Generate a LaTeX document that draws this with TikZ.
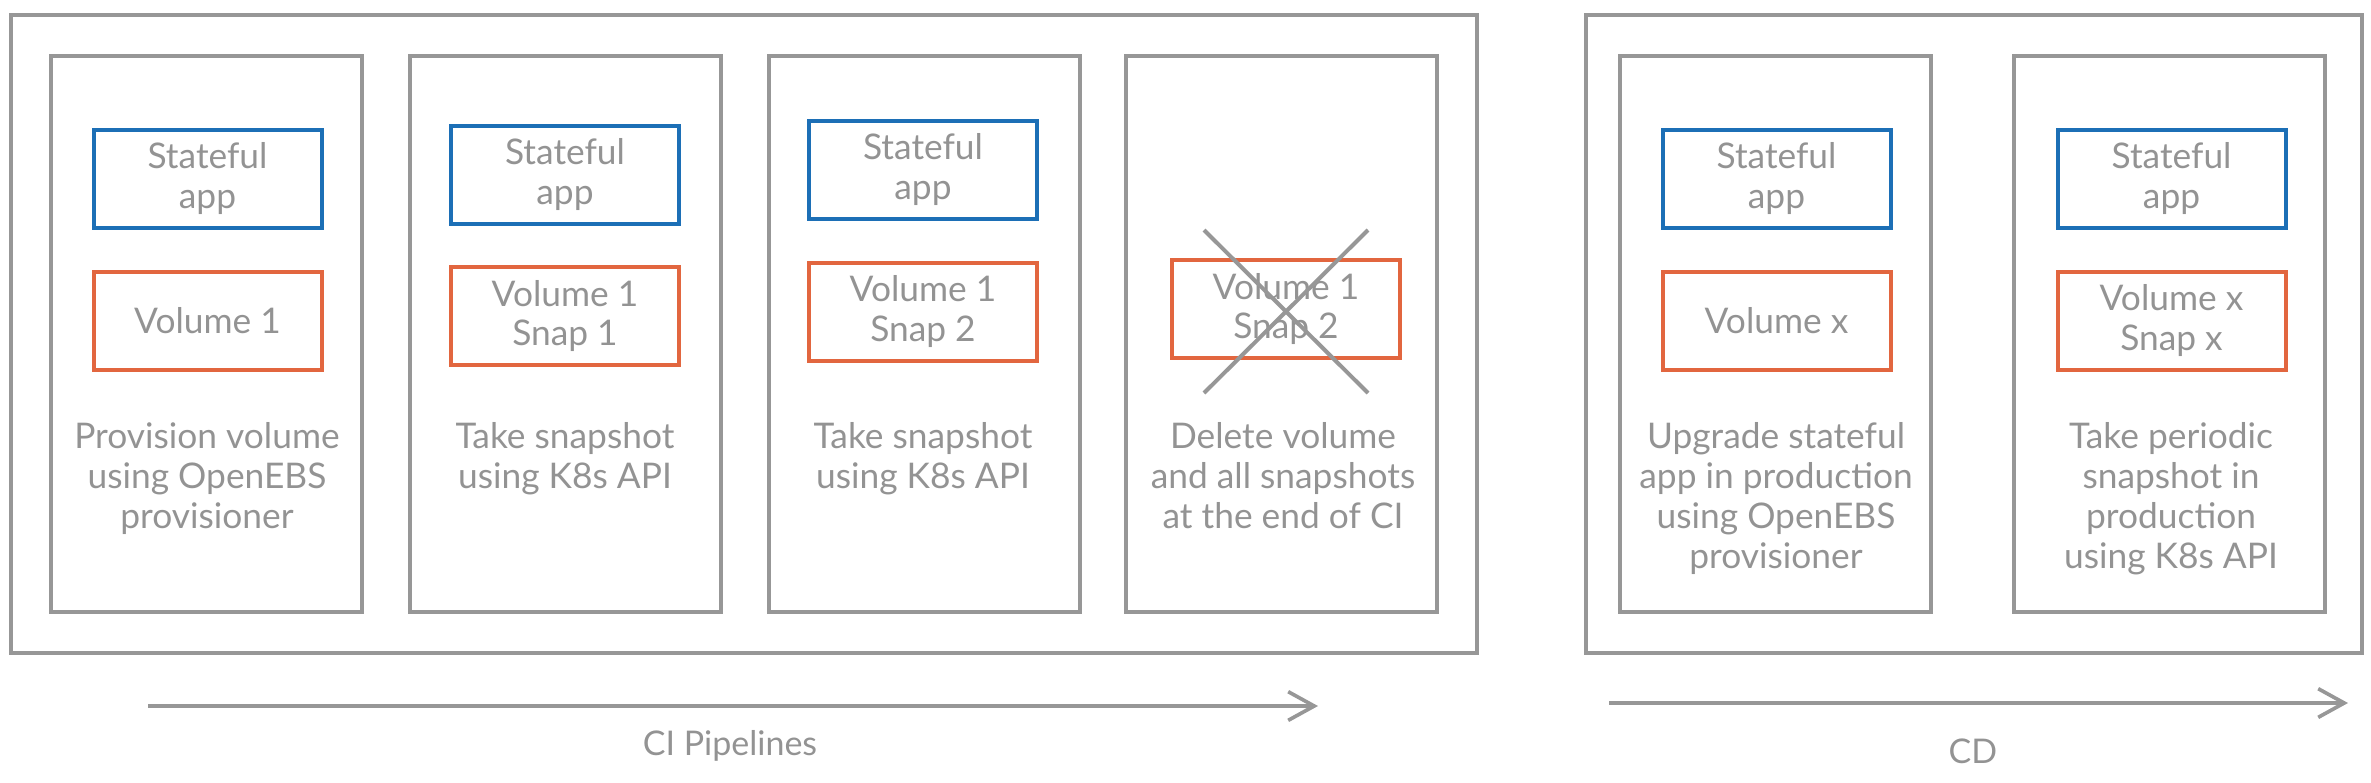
\documentclass[tikz,border=0pt]{standalone}
\usepackage{fontspec}
\setmainfont{Lato}
\usetikzlibrary{arrows.meta,calc}
\definecolor{framegray}{HTML}{979797}
\definecolor{textgray}{HTML}{939393}
\definecolor{appblue}{HTML}{1C6FB6}
\definecolor{volorange}{HTML}{E2663F}
\def\px{0.3pt}
\tikzset{%
  >={Straight Barb[length=7.8pt,width=8.6pt]}, % open arrow heads
  inner sep=0pt,%
  outer sep=0pt,%
  every node/.style={text=textgray,font=\fontsize{10.6}{12}\selectfont,align=center},%
  group frame/.style={draw=framegray,line width=1.2pt,
    minimum width=#1*\px,minimum height=638*\px},%
  stage box/.style={draw=framegray,line width=1.2pt,
    minimum width=311*\px,minimum height=556*\px},%
  app box/.style={draw=appblue,line width=1.2pt,
    minimum width=228*\px,minimum height=98*\px},%
  volume box/.style={draw=volorange,line width=1.2pt,
    minimum width=228*\px,minimum height=98*\px},%
  stage text/.style={anchor=north}%
}
\begin{document}
\begin{tikzpicture}[x=\px,y=-\px] % CI / CD

\useasboundingbox (0,0) rectangle (2371,782);

% outer frames
\node[group frame=1466] (CI) at (744,334) {};
\node[group frame=776] (CD) at (1974,334) {};

% CI stages
\node[stage box] (S1) at (206.5,334) {};
\node[stage box] (S2) at (565.5,334) {};
\node[stage box] (S3) at (924,334) {};
\node[stage box] (S4) at (1281,334) {};

\node[app box] (A1) at (207.5,179) {Stateful\\app};
\node[app box] (A2) at (565,174.5) {Stateful\\app};
\node[app box] (A3) at (923,170) {Stateful\\app};

\node[volume box] (V1) at (207.5,320.5) {Volume 1};
\node[volume box] (V2) at (565,316) {Volume 1\\Snap 1};
\node[volume box] (V3) at (923,312) {Volume 1\\Snap 2};
\node[volume box] (V4) at (1286,309) {Volume 1\\Snap 2};

\node[stage text] (T1) at (207,422) {Provision volume\\using OpenEBS\\provisioner};
\node[stage text] (T2) at (565,422) {Take snapshot\\using K8s API};
\node[stage text] (T3) at (923,422) {Take snapshot\\using K8s API};
\node[stage text] (T4) at (1283,422) {Delete volume\\and all snapshots\\at the end of CI};

% cross over the deleted volume
\coordinate (X1) at ($(V4)+(-82,-79)$);
\coordinate (X2) at ($(V4)+(82,84)$);
\coordinate (X3) at ($(V4)+(82,-79)$);
\coordinate (X4) at ($(V4)+(-82,84)$);
\draw[framegray,line width=1.2pt] (X1) -- (X2) (X3) -- (X4);

% CD stages
\node[stage box] (S5) at (1775,334) {};
\node[stage box] (S6) at (2169.5,334) {};

\node[app box] (A5) at (1776.5,179) {Stateful\\app};
\node[app box] (A6) at (2171.5,179) {Stateful\\app};

\node[volume box] (V5) at (1776.5,320.5) {Volume x};
\node[volume box] (V6) at (2171.5,320.5) {Volume x\\Snap x};

\node[stage text] (T5) at (1776,422) {Upgrade stateful\\app in production\\using OpenEBS\\provisioner};
\node[stage text] (T6) at (2171,422) {Take periodic\\snapshot in\\production\\using K8s API};

% time arrows
\coordinate (CIa) at (148,706);
\coordinate (CIb) at (1318,706);
\coordinate (CDa) at (1609,703);
\coordinate (CDb) at (2348,703);
\draw[->,framegray,line width=1.1pt] (CIa) -- (CIb);
\draw[->,framegray,line width=1.1pt] (CDa) -- (CDb);
\node[font=\fontsize{10.2}{12}\selectfont] (CIlabel) at (730,746) {CI Pipelines};
\node[font=\fontsize{10.2}{12}\selectfont] (CDlabel) at (1973,751) {CD};

\end{tikzpicture}
\end{document}
